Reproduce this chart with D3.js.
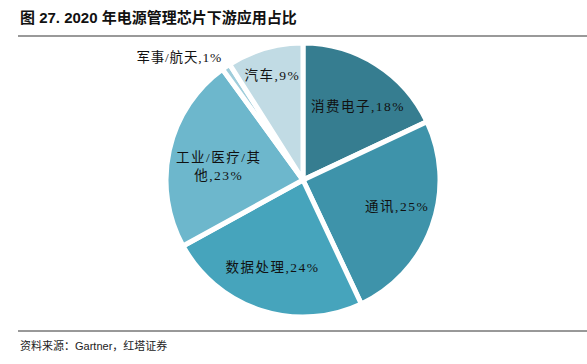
<!DOCTYPE html>
<html><head><meta charset="utf-8">
<script src="https://cdn.jsdelivr.net/npm/d3@7/dist/d3.min.js"></script>
<style>body{margin:0;background:#fff}svg{display:block}</style>
</head><body>
<svg id="c" width="587" height="364"></svg>
<script>
const categories = ["消费电子", "通讯", "数据处理", "工业/医疗/其他", "军事/航天", "汽车"];
const values = [18, 25, 24, 23, 1, 9];
const colors = ["#367d90", "#3e93aa", "#46a4bc", "#6db7cc", "#9fcddb", "#c1dbe4"];

const svg = d3.select("#c");
const cx = 303, cy = 180, R = 137;

svg.append("text").attr("x", 20).attr("y", 23)
  .attr("font-family", "Liberation Sans, Noto Sans CJK SC, sans-serif")
  .attr("font-weight", "bold").attr("font-size", 15).attr("fill", "#111")
  .text("图 27. 2020 年电源管理芯片下游应用占比");
svg.append("line").attr("x1", 18).attr("x2", 587).attr("y1", 36).attr("y2", 36)
  .attr("stroke", "#777").attr("stroke-width", 1.5);
svg.append("line").attr("x1", 18).attr("x2", 587).attr("y1", 331).attr("y2", 331)
  .attr("stroke", "#333").attr("stroke-width", 1);
svg.append("text").attr("x", 20).attr("y", 350)
  .attr("font-family", "Liberation Sans, Noto Sans CJK SC, sans-serif")
  .attr("font-size", 11).attr("fill", "#222")
  .text("资料来源：Gartner，红塔证券");

const pie = d3.pie().sort(null).value(d => d.v);
const data = pie(categories.map((c, i) => ({c, v: values[i], col: colors[i]})));
const arc = d3.arc().innerRadius(0).outerRadius(R);
const g = svg.append("g").attr("transform", `translate(${cx},${cy})`);
g.selectAll("path").data(data).join("path")
  .attr("d", arc).attr("fill", d => d.data.col)
  .attr("stroke", "#fff").attr("stroke-width", 5).attr("stroke-linejoin", "miter");

const labelFont = "Liberation Serif, Noto Sans CJK SC, serif";
const labelR = [0.64, 0.73, 0.72, 0.66, 0, 0.8];
const labelShift = [[8, 0], [0, -8], [0, -7], [4, 6], [0, 0], [0, 0]];
data.forEach((d, i) => {
  const a = (d.startAngle + d.endAngle) / 2;
  let x, y, anchor = "middle";
  let lines = [`${d.data.c},${d.data.v}%`];
  if (d.data.c === "军事/航天") {
    x = 222 - cx; y = 62 - cy; anchor = "end";
  } else {
    const r = R * labelR[i];
    x = Math.sin(a) * r + labelShift[i][0]; y = -Math.cos(a) * r + 5 + labelShift[i][1];
  }
  if (d.data.c === "工业/医疗/其他") lines = ["工业/医疗/其", `他,${d.data.v}%`];
  const t = g.append("text").attr("x", x).attr("y", y - (lines.length - 1) * 9)
    .attr("text-anchor", anchor).attr("font-family", labelFont)
    .attr("font-size", 13.5).attr("letter-spacing", d.data.c === "军事/航天" ? 0.8 : 1.5).attr("fill", "#111");
  lines.forEach((l, k) => t.append("tspan").attr("x", x).attr("dy", k ? 18 : 0).text(l));
});
</script>
</body></html>
